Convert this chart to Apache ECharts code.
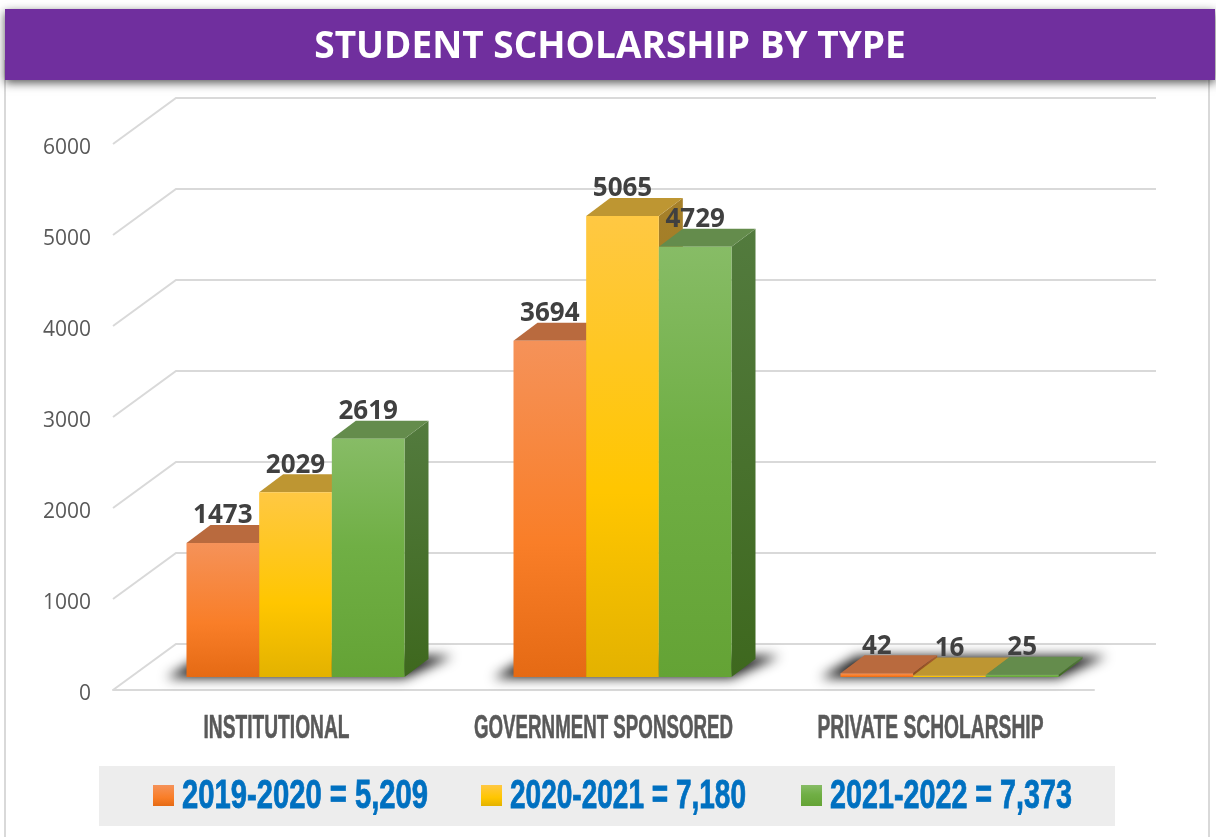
<!DOCTYPE html>
<html>
<head>
<meta charset="utf-8">
<style>html,body{margin:0;padding:0;background:#fff}#c{width:1216px;height:837px}</style>
<script src="https://cdn.jsdelivr.net/npm/echarts@6/dist/echarts.min.js"></script>
</head>
<body>
<div id="c"></div>
<script>
const categories = ['INSTITUTIONAL', 'GOVERNMENT SPONSORED', 'PRIVATE SCHOLARSHIP'];
const seriesNames = ['2019-2020', '2020-2021', '2021-2022'];
const values2019 = [1473, 3694, 42];
const values2020 = [2029, 5065, 16];
const values2021 = [2619, 4729, 25];
const legendTotals = ['5,209', '7,180', '7,373'];
const yTicks = [0, 1000, 2000, 3000, 4000, 5000, 6000];
const titleText = 'STUDENT SCHOLARSHIP BY TYPE';

const chart = echarts.init(document.getElementById('c'), null, {renderer: 'canvas'});
const grad = (stops) => ({type: 'linear', x: 0, y: 0, x2: 0, y2: 1,
  colorStops: stops.map((c) => ({offset: c[0], color: c[1]}))});
const palette = [
  {front: grad([[0, '#F59259'], [0.6, '#F97E28'], [1, '#E56A14']]), top: '#B96A3E',
   side: grad([[0, '#A85F30'], [1, '#8E4A18']])},
  {front: grad([[0, '#FFC843'], [0.6, '#FFC600'], [1, '#E3B200']]), top: '#BE9632',
   side: grad([[0, '#A6802A'], [1, '#8F6F10']])},
  {front: grad([[0, '#87BC66'], [0.45, '#70AF45'], [1, '#64A335']]), top: '#648C4C',
   side: grad([[0, '#537B3E'], [1, '#3E681E']])}
];
const depthX = 24, depthY = 18, floorLift = 13, floorShift = 19;
const sansFamily = '"Open Sans"';
const blockFamily = '"Liberation Sans"';

const measure = document.createElement('canvas').getContext('2d');
function fitScale(text, size, width) {
  measure.font = 'bold ' + size + 'px ' + blockFamily;
  return width / measure.measureText(text).width;
}

function barItem(idx) {
  return function (params, api) {
    const cat = api.value(0), val = api.value(1);
    const band = api.size([1, 0])[0];
    const w = band * 2 / 9;
    const base = api.coord([cat, 0]);
    const top = api.coord([cat, val]);
    const l = base[0] + floorShift - w * 1.5 + idx * w, r = l + w;
    const by = base[1] - floorLift, ty = top[1] - floorLift;
    const c = palette[idx];
    return {type: 'group', children: [
      {type: 'polygon', shape: {points: [[r, ty], [r + depthX, ty - depthY], [r + depthX, by - depthY], [r, by]]},
       style: {fill: c.side}},
      {type: 'polygon', shape: {points: [[l, ty], [r, ty], [r + depthX, ty - depthY], [l + depthX, ty - depthY]]},
       style: {fill: c.top}},
      {type: 'rect', shape: {x: l, y: ty, width: w, height: by - ty}, style: {fill: c.front}},
      {type: 'text', x: (l + r) / 2, y: ty - depthY - 9, z2: 50,
       style: {text: String(val), align: 'center', verticalAlign: 'middle', fill: '#404040',
         fontFamily: sansFamily, fontWeight: 'bold', fontSize: 26}}
    ]};
  };
}
function wallItem(params, api) {
  const cs = params.coordSys, v = api.value(1);
  const y = api.coord([0, v])[1];
  return {type: 'polyline', silent: true,
    shape: {points: [[cs.x, y], [cs.x + 63, y - 46], [cs.x + cs.width + 62, y - 46]]},
    style: {stroke: '#D9D9D9', lineWidth: 2, fill: null}};
}
function shadowItem(params, api) {
  const band = api.size([1, 0])[0];
  const c = api.coord([api.value(0), 0]);
  const l = c[0] + floorShift - band / 3, r = c[0] + floorShift + band / 3, y = c[1] - floorLift;
  const away = 3000;
  return {type: 'polygon', silent: true,
    shape: {points: [[l - 20 - away, y + 1], [r - away, y + 1], [r + 48 - away, y - 21], [l + 16 - away, y - 21]]},
    style: {fill: '#000', shadowColor: 'rgba(25,25,25,1)', shadowBlur: 12, shadowOffsetX: away}};
}
const catLabelWidths = [146, 259, 226];
function catLabelItem(params, api) {
  const i = api.value(0);
  const c = api.coord([i, 0]);
  return {type: 'text', x: c[0], y: c[1] + 39, scaleX: fitScale(categories[i], 33, catLabelWidths[i]),
    style: {text: categories[i], align: 'center', verticalAlign: 'middle', fill: '#595959',
      stroke: '#595959', lineWidth: 0.6,
      fontFamily: blockFamily, fontWeight: 'bold', fontSize: 33}};
}
const catData = categories.map((_, i) => [i, 0]);
const allValues = [values2019, values2020, values2021];

const legendMarkerX = [153, 481, 801];
const legendTextWidths = [246, 236, 242];
const legendGraphics = [];
seriesNames.forEach((n, i) => {
  const label = n + ' = ' + legendTotals[i];
  legendGraphics.push(
    {type: 'rect', z: 1, shape: {x: legendMarkerX[i], y: 785, width: 21, height: 21},
     style: {fill: palette[i].front}},
    {type: 'text', z: 1, x: legendMarkerX[i] + 29, y: 797, scaleX: fitScale(label, 40, legendTextWidths[i]),
     style: {text: label, x: 0, y: 0, align: 'left', verticalAlign: 'middle', fill: '#0070C0',
       stroke: '#0070C0', lineWidth: 0.8,
       fontFamily: blockFamily, fontWeight: 'bold', fontSize: 40}}
  );
});

chart.setOption({
  animation: false,
  backgroundColor: '#fff',
  title: {text: titleText, left: 605, top: 24, textAlign: 'center',
    textStyle: {color: '#fff', fontSize: 37, fontWeight: 'bold', fontFamily: sansFamily}},
  grid: {left: 113, right: 122, top: 144, bottom: 147},
  xAxis: {type: 'category', data: categories, axisTick: {show: false}, axisLabel: {show: false},
    axisLine: {show: true, lineStyle: {color: '#D9D9D9', width: 2}}},
  yAxis: {type: 'value', min: 0, max: 6000, interval: 1000, splitLine: {show: false},
    axisLine: {show: false}, axisTick: {show: false},
    axisLabel: {margin: 22, formatter: (v) => '{t|' + v + '}',
      rich: {t: {color: '#595959', fontSize: 21, fontFamily: sansFamily, padding: [8, 0, 0, 0]}}}},
  graphic: [
    {type: 'line', z: -1, shape: {x1: 5, y1: 60, x2: 5, y2: 837}, style: {stroke: '#D9D9D9', lineWidth: 2}},
    {type: 'line', z: -1, shape: {x1: 1209, y1: 60, x2: 1209, y2: 837}, style: {stroke: '#D9D9D9', lineWidth: 2}},
    {type: 'rect', z: 0, shape: {x: 99, y: 766, width: 1016, height: 60}, style: {fill: '#EDEDED'}},
    {type: 'rect', z: 0, shape: {x: 5, y: 9, width: 1210, height: 71},
     style: {fill: '#702F9E', shadowColor: 'rgba(0,0,0,0.65)', shadowBlur: 9, shadowOffsetY: 3}}
  ].concat(legendGraphics),
  series: [
    {type: 'custom', name: 'walls', coordinateSystem: 'cartesian2d', clip: false, z: 1, silent: true,
     renderItem: wallItem, data: yTicks.map((v) => [0, v])},
    {type: 'custom', name: 'floorShadow', coordinateSystem: 'cartesian2d', clip: false, z: 2, silent: true,
     renderItem: shadowItem, data: catData},
    {type: 'custom', name: 'categoryLabels', coordinateSystem: 'cartesian2d', clip: false, z: 2, silent: true,
     renderItem: catLabelItem, data: catData}
  ].concat(seriesNames.map((n, i) => ({
    type: 'custom', name: n, coordinateSystem: 'cartesian2d', clip: false, z: 3 + i,
    itemStyle: {color: palette[i].front},
    renderItem: barItem(i), encode: {x: 0, y: 1},
    data: allValues[i].map((v, k) => [k, v])
  })))
});
</script>
</body>
</html>
